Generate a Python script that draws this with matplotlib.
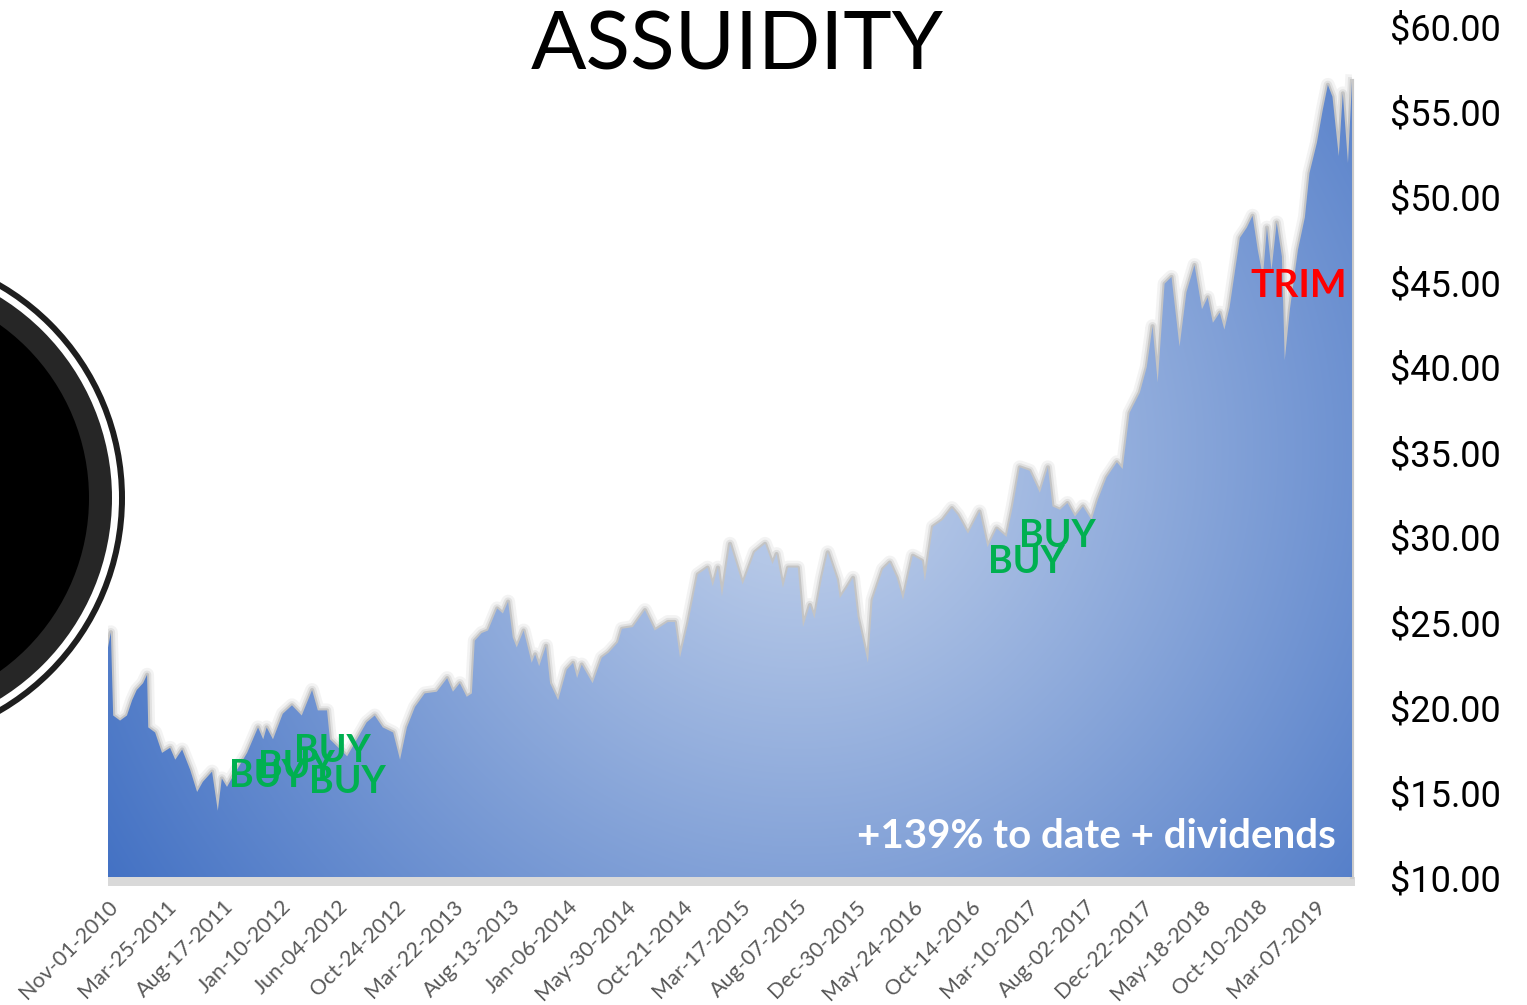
import numpy as np
import matplotlib.pyplot as plt
from matplotlib.patches import Circle, Rectangle

# trading-day index (category axis) and closing price
day = [0, 5, 9, 21, 33, 42, 50, 61, 68, 70, 82, 94, 108, 117, 129, 143, 155, 165, 181, 191,
       198, 207, 217, 242, 261, 270, 276, 287, 304, 320, 337, 355, 365, 381, 386, 416, 450, 464,
       478, 496, 508, 520, 534, 551, 572, 590, 600, 612, 624, 633, 638, 650, 661, 677, 687, 696,
       704, 711, 723, 737, 743, 750, 762, 769, 783, 798, 809, 816, 824, 843, 859, 871, 887, 894,
       913, 934, 951, 974, 986, 995, 1009, 1026, 1043, 1052, 1061, 1068, 1082, 1104, 1125, 1143,
       1156, 1163, 1174, 1183, 1200, 1209, 1221, 1229, 1242, 1252, 1268, 1273, 1285, 1296, 1304,
       1322, 1330, 1348, 1360, 1372, 1383, 1400, 1416, 1421, 1435, 1452, 1468, 1478, 1496, 1516,
       1530, 1546, 1563, 1574, 1586, 1603, 1621, 1635, 1643, 1656, 1669, 1682, 1696, 1711, 1722,
       1737, 1755, 1765, 1777, 1795, 1807, 1817, 1826, 1838, 1850, 1864, 1876, 1890, 1903, 1913,
       1922, 1934, 1942, 1951, 1969, 1981, 1991, 2000, 2009, 2016, 2024, 2033, 2042, 2047, 2056,
       2070, 2082, 2090, 2103, 2113, 2122, 2130, 2141, 2148, 2157, 2164]
price = [23.5, 24.4, 19.5, 19.2, 19.5, 20.4, 21.0, 21.4, 21.9, 18.8, 18.5, 17.3, 17.6, 16.9, 17.5,
         16.3, 15.0, 15.6, 16.2, 13.9, 15.8, 15.3, 15.9, 17.3, 18.8, 18.1, 18.8, 18.1, 19.6, 20.1,
         19.5, 21.0, 19.8, 19.8, 18.1, 17.1, 19.1, 19.5, 18.8, 18.5, 16.9, 18.8, 20.0, 20.8, 20.9,
         21.7, 20.9, 21.4, 20.6, 20.8, 23.9, 24.35, 24.5, 25.8, 25.5, 26.2, 24.1, 23.5, 24.5, 22.6,
         23.1, 22.4, 23.6, 21.4, 20.4, 22.2, 22.6, 21.7, 22.5, 21.4, 22.9, 23.2, 23.8, 24.6, 24.7,
         25.7, 24.5, 25.0, 25.0, 22.9, 24.9, 27.8, 28.2, 27.1, 28.2, 26.5, 29.6, 27.2, 29.1, 29.6,
         28.4, 29.0, 27.0, 28.2, 28.2, 24.7, 26.0, 25.2, 27.6, 29.1, 27.5, 26.4, 27.0, 27.6, 25.3,
         22.6, 26.3, 28.1, 28.5, 27.6, 26.3, 28.9, 28.6, 27.4, 30.6, 31.0, 31.7, 31.3, 30.2, 31.5,
         29.4, 30.5, 30.0, 31.8, 34.1, 33.9, 32.6, 34.1, 31.8, 31.6, 32.0, 31.2, 31.8, 31.0, 32.2,
         33.5, 34.4, 34.0, 37.3, 38.5, 40.0, 42.4, 39.1, 44.9, 45.3, 41.2, 44.4, 46.0, 43.4, 44.1,
         42.6, 43.2, 42.2, 43.5, 47.6, 48.2, 48.9, 46.9, 45.3, 48.2, 45.7, 48.5, 46.5, 40.4, 43.4,
         46.9, 48.8, 51.4, 53.2, 55.1, 56.6, 55.9, 52.4, 56.1, 52.0, 56.8]

tick_days = list(range(0, 2200, 100))
tick_labels = ['Nov-01-2010', 'Mar-25-2011', 'Aug-17-2011', 'Jan-10-2012', 'Jun-04-2012',
               'Oct-24-2012', 'Mar-22-2013', 'Aug-13-2013', 'Jan-06-2014', 'May-30-2014',
               'Oct-21-2014', 'Mar-17-2015', 'Aug-07-2015', 'Dec-30-2015', 'May-24-2016',
               'Oct-14-2016', 'Mar-10-2017', 'Aug-02-2017', 'Dec-22-2017', 'May-18-2018',
               'Oct-10-2018', 'Mar-07-2019']
y_ticks = [10, 15, 20, 25, 30, 35, 40, 45, 50, 55, 60]

buy_day = [278, 327, 391, 416, 1598, 1652]
buy_price = [15.94, 16.47, 17.41, 15.59, 28.53, 30.06]
trim_day = [2071]
trim_price = [44.82]

plt.rcParams['font.family'] = ['Lato', 'DejaVu Sans']

fig = plt.figure(figsize=(15.27, 10.05), dpi=100)

# decoration layer in pixel units
bg = fig.add_axes([0, 0, 1, 1])
bg.set_xlim(0, 1527)
bg.set_ylim(1005, 0)
bg.axis('off')
for r, c in [(249, '#1e1e1e'), (243, 'white'), (236, '#262626'), (213, 'black')]:
    bg.add_patch(Circle((-124, 498), r, color=c, lw=0))
bg.add_patch(Rectangle((108, 877), 1247, 9, color='#D9D9D9', lw=0))

ax = fig.add_axes([108 / 1527, 128 / 1005, 1244 / 1527, 850 / 1005])
ax.patch.set_visible(False)
ax.set_xlim(0, 2164)
ax.set_ylim(10, 60)

# soft shadow along the top edge
for lw, a in [(10, 0.07), (6, 0.12), (3, 0.22)]:
    ax.plot(day, price, color='#5f5f5f', lw=lw, alpha=a, zorder=1, solid_joinstyle='round')

# radial gradient fill clipped to the area
H, W = 850, 1244
yy, xx = np.mgrid[0:H, 0:W]
d = np.hypot(xx - 692, yy - 423)
t = np.clip((d - 120) / 690, 0, 1)[..., None]
light = np.array([180, 199, 231]) / 255
dark = np.array([68, 114, 196]) / 255
img = light * (1 - t) + dark * t
poly = ax.fill_between(day, price, 10, facecolor='none', lw=0)
im = ax.imshow(img, extent=[0, 2164, 10, 60], aspect='auto', origin='upper', zorder=2)
im.set_clip_path(poly.get_paths()[0], transform=ax.transData)

# right side wall
ax.plot([day[-1], day[-1]], [10, price[-1]], color='#C9C9C9', lw=3, zorder=1, clip_on=False)

for s in ax.spines.values():
    s.set_visible(False)

ax.set_xticks(tick_days)
ax.set_xticklabels(tick_labels, rotation=45, ha='right', rotation_mode='anchor',
                   color='#595959', fontsize=15.5)
ax.tick_params(axis='x', length=0, pad=14)

ax.yaxis.tick_right()
ax.set_yticks(y_ticks)
ax.set_yticklabels(['$%.2f' % v for v in y_ticks], fontsize=26, family='Roboto')
ax.tick_params(axis='y', length=0, pad=27)

for x, y in zip(buy_day, buy_price):
    ax.text(x, y, 'BUY', color='#00B050', fontsize=27, fontweight='bold',
            ha='center', va='center', zorder=5)
for x, y in zip(trim_day, trim_price):
    ax.text(x, y, 'TRIM', color='#FF0000', fontsize=28, fontweight='bold',
            ha='center', va='center', zorder=5)

ax.text(1336, 836, '+139% to date + dividends', transform=bg.transData, color='white',
        fontsize=29, fontweight='bold', ha='right', va='center', zorder=5)

fig.text(737 / 1527, 1 - 47 / 1005, 'ASSUIDITY', ha='center', va='center', fontsize=59)

fig.savefig('out.png', dpi=100)
